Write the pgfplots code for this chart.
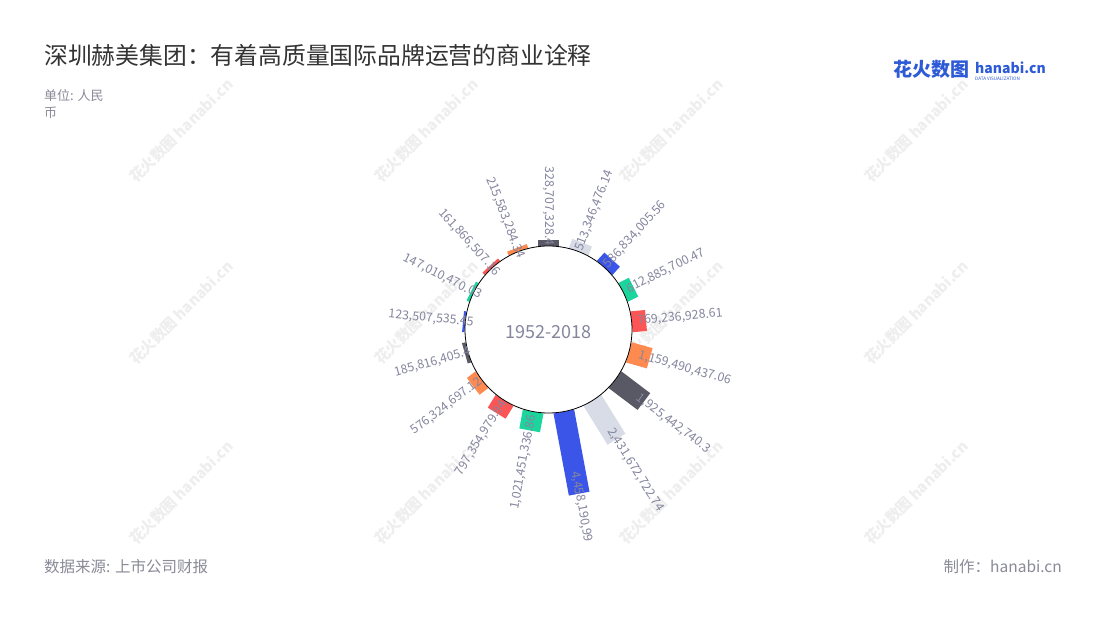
\documentclass[border=0pt]{standalone}
\usepackage{pgfplots}
\pgfplotsset{compat=1.18}
\usepgfplotslibrary{polar}
\usepackage{fontspec}
\setmainfont{Noto Sans CJK SC}
\definecolor{cdark}{HTML}{595966}
\definecolor{clight}{HTML}{D8DCE6}
\definecolor{cblue}{HTML}{3A55E8}
\definecolor{cgreen}{HTML}{1AD69C}
\definecolor{cred}{HTML}{FC5555}
\definecolor{corange}{HTML}{FE8A4F}
\definecolor{labgray}{HTML}{85859E}
\definecolor{subgray}{HTML}{8A8A98}
\definecolor{titlec}{HTML}{333333}
\definecolor{wmc}{HTML}{EEEEEE}
\definecolor{logob}{HTML}{2D5AD6}
\tikzset{
  rlab/.style={rotate=#1, anchor=west, inner sep=0pt,
    text=labgray, font=\fontsize{12.3}{12}\selectfont},
  llab/.style={rotate=#1+180, anchor=east, inner sep=0pt,
    text=labgray, font=\fontsize{12.3}{12}\selectfont},
}
% label offset inward from the end of the bar (pt), plus a fixed correction
\newcommand{\RL}[2]{\kern-\dimexpr #1pt+11pt\relax #2}
\newcommand{\LL}[2]{#2\kern-\dimexpr #1pt+11pt\relax}
\begin{document}
\begin{tikzpicture}
\useasboundingbox[fill=white] (0pt,0pt) rectangle (1100pt,620pt);
% watermarks
\foreach \x in {132,377,622,867}{
  \foreach \y in {180,362,542}{
    \node[text=wmc, rotate=45, anchor=west, inner sep=0pt,
      font=\fontsize{15}{15}\selectfont\bfseries] at ({\x*1pt},{(620-\y)*1pt}) {花火数图\ hanabi.cn};
  }
}
% title and notes
\node[anchor=base west, inner sep=0pt, text=titlec, font=\fontsize{23.8}{24}\selectfont]
  at (44pt,555pt) {深圳赫美集团：有着高质量国际品牌运营的商业诠释};
\node[anchor=base west, inner sep=0pt, text=subgray, font=\fontsize{13}{13}\selectfont]
  at (44pt,519pt) {单位: 人民};
\node[anchor=base west, inner sep=0pt, text=subgray, font=\fontsize{13}{13}\selectfont]
  at (44pt,502pt) {币};
\node[anchor=base west, inner sep=0pt, text=subgray, font=\fontsize{15.5}{16}\selectfont]
  at (44pt,47pt) {数据来源: 上市公司财报};
\node[anchor=base east, inner sep=0pt, text=subgray, font=\fontsize{15.5}{16}\selectfont]
  at (1062pt,47pt) {制作：hanabi.cn};
% logo
\node[anchor=base west, inner sep=0pt, text=logob, font=\fontsize{19}{19}\selectfont\bfseries]
  at (893pt,543pt) {花火数图};
\node[anchor=base west, inner sep=0pt, text=logob, font=\fontsize{14}{14}\selectfont\bfseries]
  at (975pt,546pt) {hanabi.cn};
\node[anchor=base west, inner sep=0pt, text=logob, font=\fontsize{4.6}{5}\selectfont]
  at (975pt,539pt) {DATA VISUALIZATION};

\begin{polaraxis}[
  at={(548.5pt,290.5pt)}, anchor=center,
  scale only axis, width=400pt, height=400pt,
  xmin=0, xmax=360, ymin=0, ymax=200,
  hide axis, clip=false,
  rbar/.style={line width=21pt, line cap=butt,
    x filter/.expression={90-x*360/17},
    y filter/.expression={83.5+y*1.873e-8}},
]
% bars
\addplot[rbar, cdark]   coordinates {(0,0) (0,328707328.4)};
\addplot[rbar, clight]  coordinates {(1,0) (1,513346476.14)};
\addplot[rbar, cblue]   coordinates {(2,0) (2,586834005.56)};
\addplot[rbar, cgreen]  coordinates {(3,0) (3,612885700.47)};
\addplot[rbar, cred]    coordinates {(4,0) (4,769236928.61)};
\addplot[rbar, corange] coordinates {(5,0) (5,1159490437.06)};
\addplot[rbar, cdark]   coordinates {(6,0) (6,1925442740.3)};
\addplot[rbar, clight]  coordinates {(7,0) (7,2431672722.74)};
\addplot[rbar, cblue]   coordinates {(8,0) (8,4458190990.99)};
\addplot[rbar, cgreen]  coordinates {(9,0) (9,1021451336.86)};
\addplot[rbar, cred]    coordinates {(10,0) (10,797354979.94)};
\addplot[rbar, corange] coordinates {(11,0) (11,576324697.12)};
\addplot[rbar, cdark]   coordinates {(12,0) (12,185816405.4)};
\addplot[rbar, cblue]   coordinates {(13,0) (13,123507535.45)};
\addplot[rbar, cgreen]  coordinates {(14,0) (14,147010470.03)};
\addplot[rbar, cred]    coordinates {(15,0) (15,161866507.16)};
\addplot[rbar, corange] coordinates {(16,0) (16,215583284.34)};
% inner circle
\draw[black, line width=0.8pt, fill=white] (axis cs:0,0) circle[radius=83.5pt];
\node[text=labgray, font=\fontsize{18}{18}\selectfont, inner sep=0pt] at ([yshift=-3pt]axis cs:0,0) {1952-2018};
% labels
\addplot[rbar, draw=none] coordinates {(0,0) (0,328707328.4)}   node[pos=1, llab={90}] {\LL{5}{328,707,328.4}};
\addplot[rbar, draw=none] coordinates {(1,0) (1,513346476.14)}  node[pos=1, rlab={68.824}] {\RL{8}{513,346,476.14}};
\addplot[rbar, draw=none] coordinates {(2,0) (2,586834005.56)}  node[pos=1, rlab={47.647}] {\RL{8}{586,834,005.56}};
\addplot[rbar, draw=none] coordinates {(3,0) (3,612885700.47)}  node[pos=1, rlab={26.471}] {\RL{6}{612,885,700.47}};
\addplot[rbar, draw=none] coordinates {(4,0) (4,769236928.61)}  node[pos=1, rlab={5.294}] {\RL{8}{769,236,928.61}};
\addplot[rbar, draw=none] coordinates {(5,0) (5,1159490437.06)} node[pos=1, rlab={-15.882}] {\RL{11}{1,159,490,437.06}};
\addplot[rbar, draw=none] coordinates {(6,0) (6,1925442740.3)}  node[pos=1, rlab={-37.059}] {\RL{7}{1,925,442,740.3}};
\addplot[rbar, draw=none] coordinates {(7,0) (7,2431672722.74)} node[pos=1, rlab={-58.235}] {\RL{11}{2,431,672,722.74}};
\addplot[rbar, draw=none] coordinates {(8,0) (8,4458190990.99)} node[pos=1, rlab={-79.412}] {\RL{22}{4,458,190,99}};
\addplot[rbar, draw=none] coordinates {(9,0) (9,1021451336.86)} node[pos=1, llab={-100.588}] {\LL{15}{1,021,451,336.86}};
\addplot[rbar, draw=none] coordinates {(10,0) (10,797354979.94)} node[pos=1, llab={-121.765}] {\LL{13}{797,354,979.94}};
\addplot[rbar, draw=none] coordinates {(11,0) (11,576324697.12)} node[pos=1, llab={-142.941}] {\LL{9}{576,324,697.12}};
\addplot[rbar, draw=none] coordinates {(12,0) (12,185816405.4)}  node[pos=1, llab={-164.118}] {\LL{5}{185,816,405.4}};
\addplot[rbar, draw=none] coordinates {(13,0) (13,123507535.45)} node[pos=1, llab={-185.294}] {\LL{10}{123,507,535.45}};
\addplot[rbar, draw=none] coordinates {(14,0) (14,147010470.03)} node[pos=1, llab={-206.471}] {\LL{10}{147,010,470.03}};
\addplot[rbar, draw=none] coordinates {(15,0) (15,161866507.16)} node[pos=1, llab={-227.647}] {\LL{11}{161,866,507.16}};
\addplot[rbar, draw=none] coordinates {(16,0) (16,215583284.34)} node[pos=1, llab={-248.824}] {\LL{10}{215,583,284.34}};
\end{polaraxis}
\end{tikzpicture}
\end{document}
